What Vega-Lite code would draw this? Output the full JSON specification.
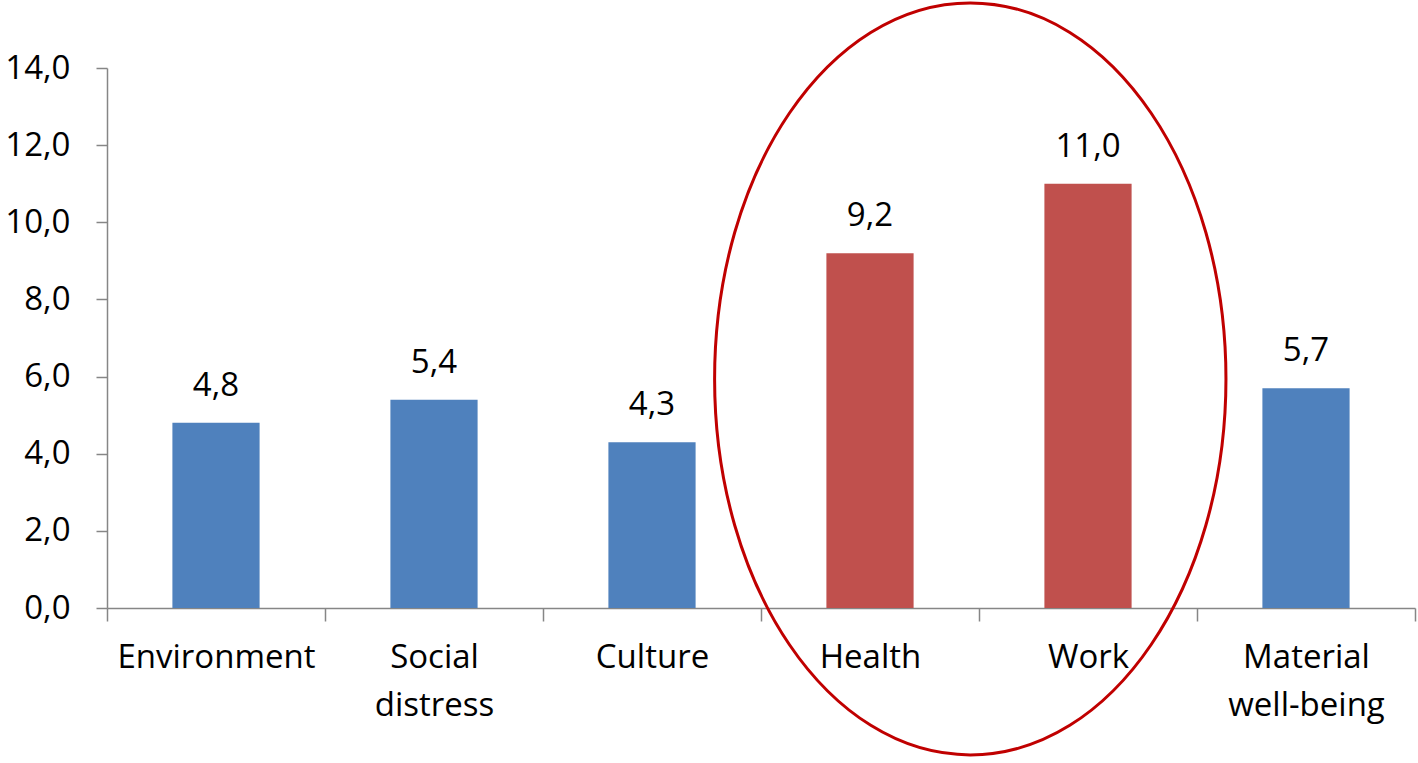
{
  "$schema": "https://vega.github.io/schema/vega-lite/v6.json",
  "width": 1308,
  "height": 540,
  "autosize": {"type": "none"},
  "padding": {"left": 107, "top": 68, "right": 3, "bottom": 155},
  "background": "white",
  "config": {
    "font": "Open Sans",
    "view": {"stroke": null},
    "locale": {"number": {"decimal": ",", "thousands": ".", "grouping": [3], "currency": ["", " €"]}}
  },
  "layer": [
    {
      "data": {"values": [
        {"category": "Environment", "value": 4.8, "group": "other"},
        {"category": "Social distress", "value": 5.4, "group": "other"},
        {"category": "Culture", "value": 4.3, "group": "other"},
        {"category": "Health", "value": 9.2, "group": "highlight"},
        {"category": "Work", "value": 11.0, "group": "highlight"},
        {"category": "Material well-being", "value": 5.7, "group": "other"}
      ]},
      "encoding": {
        "x": {
          "field": "category", "type": "nominal",
          "scale": {"domain": ["Environment", "Social distress", "Culture", "Health", "Work", "Material well-being"], "paddingInner": 0, "paddingOuter": 0},
          "axis": {
            "title": null, "labelAngle": 0, "labelExpr": "split(datum.label, ' ')",
            "labelFontSize": 33, "labelColor": "#000000", "labelLineHeight": 48,
            "labelPadding": 20, "labelLimit": 400, "tickBand": "extent", "tickSize": 13,
            "tickColor": "#868686", "domainColor": "#868686", "tickWidth": 1.5, "domainWidth": 1.5,
            "labelBaseline": "top"
          }
        },
        "y": {
          "field": "value", "type": "quantitative",
          "scale": {"domain": [0, 14]},
          "axis": {
            "title": null, "values": [0, 2, 4, 6, 8, 10, 12, 14], "format": ".1f",
            "grid": false, "labelFontSize": 33, "labelColor": "#000000",
            "tickSize": 11, "labelPadding": 26, "tickColor": "#868686", "domainColor": "#868686",
            "tickWidth": 1.5, "domainWidth": 1.5
          }
        }
      },
      "layer": [
        {
          "mark": {"type": "bar", "width": {"band": 0.4}},
          "encoding": {
            "color": {"field": "group", "type": "nominal", "scale": {"domain": ["other", "highlight"], "range": ["#4F81BD", "#C0504D"]}, "legend": null}
          }
        },
        {
          "mark": {"type": "text", "fontSize": 33, "color": "#000000", "baseline": "alphabetic", "dy": -27},
          "encoding": {
            "text": {"field": "value", "type": "quantitative", "format": ".1f"}
          }
        }
      ]
    },
    {
      "data": {"values": [{"category": "Health", "value": 5.94}]},
      "mark": {
        "type": "point",
        "shape": "M -0.68 0 A 0.68 1 0 1 1 0.68 0 A 0.68 1 0 1 1 -0.68 0 Z",
        "size": 565504,
        "filled": false,
        "stroke": "#C00000",
        "strokeWidth": 3,
        "opacity": 1,
        "clip": false
      },
      "encoding": {
        "x": {"field": "category", "type": "nominal", "bandPosition": 0.96},
        "y": {"field": "value", "type": "quantitative"}
      }
    }
  ]
}
